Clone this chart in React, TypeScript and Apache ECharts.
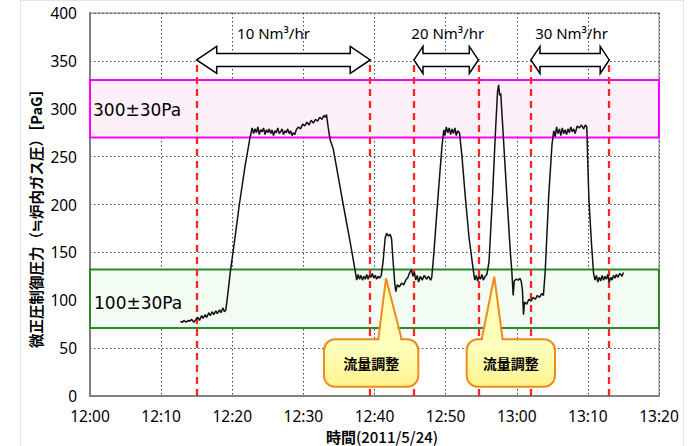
import React, { useEffect, useRef } from "react";
import * as echarts from "echarts";

// ---- data ----
const timeLabels = ["12:00", "12:10", "12:20", "12:30", "12:40", "12:50", "13:00", "13:10", "13:20"];
const yTicks = [0, 50, 100, 150, 200, 250, 300, 350, 400];

// minutes after 12:00
const timeMin = [
  12.7, 13.0, 13.2, 13.5, 13.8, 14.0, 14.3, 14.6, 14.9, 15.2, 15.4, 15.7, 15.9, 16.2, 16.4, 16.7, 16.9, 17.2, 17.4, 17.7, 17.9, 18.2, 18.4, 18.7, 18.9, 19.1,
  19.4, 19.7, 20.2, 21.0, 21.8, 22.5, 22.8,
  23.0, 23.2, 23.4, 23.6, 23.8, 24.0, 24.2, 24.4, 24.6, 24.8, 25.0, 25.2, 25.4, 25.6, 25.8, 26.0, 26.2, 26.4, 26.6, 26.8, 27.0, 27.2, 27.4, 27.6, 27.8, 28.0, 28.2, 28.4, 28.6, 28.8,
  29.0, 29.3, 29.6, 29.9, 30.2, 30.5, 30.8, 31.1, 31.4, 31.7, 32.0, 32.3, 32.6, 32.9, 33.1, 33.25,
  33.5, 33.75, 34.2, 35.0, 35.6, 36.6, 37.3, 37.5,
  37.7, 37.9, 38.1, 38.3, 38.5, 38.7, 38.9, 39.1, 39.3, 39.5, 39.7, 39.9, 40.1, 40.3, 40.5, 40.7, 40.95,
  41.2, 41.5, 41.7, 41.95, 42.2, 42.4, 42.6, 42.85, 43.0, 43.2, 43.5, 43.8, 44.1, 44.4, 44.7, 44.9, 45.2, 45.4, 45.6, 45.8, 46.0, 46.2, 46.45, 46.7, 47.0, 47.3, 47.6, 47.9, 48.05,
  48.3, 49.0, 49.5, 49.75, 49.9, 50.1, 50.3, 50.5, 50.7, 50.9, 51.1, 51.3, 51.5, 51.7, 51.95,
  52.3, 52.8, 53.3, 53.9, 54.1, 54.3, 54.5, 54.7, 54.9, 55.1, 55.3, 55.55, 55.8,
  56.1, 56.6, 57.0, 57.3, 57.45, 57.6, 57.75, 58.0, 58.6, 59.1, 59.3, 59.5, 59.65, 59.9, 60.2, 60.45, 60.65, 60.8, 60.95,
  61.1, 61.4, 61.7, 62.0, 62.3, 62.6, 62.9, 63.2, 63.5, 63.75,
  64.0, 64.5, 64.95, 65.2, 65.4, 65.6, 65.8, 66.0, 66.2, 66.4, 66.6, 66.8, 67.0, 67.2, 67.4, 67.6, 67.8, 68.0, 68.2, 68.5, 68.8, 69.1, 69.4, 69.65, 69.85,
  70.0, 70.15, 70.5, 70.8, 71.0, 71.2, 71.4, 71.6, 71.8, 72.0, 72.2, 72.4, 72.6, 72.8, 73.0, 73.2, 73.4, 73.6, 73.8, 74.0, 74.2, 74.5, 74.8, 75.0,
];
const pressure = [
  78, 77, 79, 77, 79, 78, 80, 77, 80, 82, 79, 84, 81, 85, 82, 87, 84, 88, 85, 89, 86, 90, 87, 92, 88, 90,
  108, 128, 155, 200, 240, 270, 280,
  274, 279, 275, 281, 273, 278, 276, 280, 273, 278, 275, 279, 274, 278, 272, 277, 275, 280, 274, 276, 279, 273, 277, 275, 279, 274, 277, 272, 275, 273,
  278, 281, 279, 284, 282, 286, 283, 288, 285, 289, 287, 291, 289, 293, 291, 294,
  280, 268, 258, 225, 200, 160, 130, 121,
  127, 122, 126, 121, 125, 122, 127, 122, 126, 124, 128, 123, 126, 122, 125, 123, 126,
  140, 165, 170, 167, 169, 164, 142, 118, 109, 116, 114, 118, 116, 121, 124, 128, 132, 125, 129, 121, 126, 119, 125, 121, 126, 122, 125, 121, 124,
  145, 215, 262, 278, 272, 281, 275, 280, 273, 279, 274, 280, 272, 277, 275,
  250, 205, 165, 131, 121, 126, 120, 125, 122, 127, 121, 125, 127,
  140, 210, 275, 318, 325, 314, 316, 285, 210, 150, 131, 105, 120, 122, 121, 123, 119, 110, 85,
  98, 96, 101, 99, 103, 101, 105, 103, 107, 105,
  130, 210, 262, 277, 271, 281, 274, 279, 272, 280, 274, 278, 273, 279, 275, 281, 276, 279, 274, 282, 280, 283, 279, 283, 281,
  240, 205, 160, 128, 121, 126, 119, 124, 120, 126, 121, 125, 122, 127, 119, 124, 121, 126, 123, 127, 124, 128, 125, 129,
];

// control bands
const bandHigh = { from: 270, to: 330, label: "300±30Pa" };
const bandLow = { from: 71, to: 132, label: "100±30Pa" };

// flow-change marker lines (minutes after 12:00)
const markerTimes = [15.0, 39.4, 45.55, 54.6, 62.0, 73.0];
const markerTop = 352;

// flow-rate periods
const flowFrom = [15.0, 45.55, 62.0];
const flowTo = [39.4, 54.6, 73.0];
const flowLevel = 351;
const flowLabels = ["10 Nm³/hr", "20 Nm³/hr", "30 Nm³/hr"];
const flowLabelAt = [25.8, 50.3, 67.7];
const flowLabelLevel = 379;

// callouts: box [t1, t2, vTop, vBottom], tip [t, v], base [t1, t2]
const calloutText = ["流量調整", "流量調整"];
const calloutBox = [
  [32.9, 46.16, 59.2, 9.7],
  [52.96, 65.38, 59.2, 9.7],
];
const calloutTip = [
  [41.62, 122.9],
  [56.84, 124.6],
];
const calloutBase = [
  [40.53, 43.82],
  [55.07, 58.02],
];

const headLens = [20, 9, 9];

export default function App() {
  const ref = useRef<HTMLDivElement>(null);

  useEffect(() => {
    if (!ref.current) return;
    const chart = echarts.init(ref.current, null, { renderer: "svg" });

    const lineData = timeMin.map((t, i) => [t, pressure[i]]);

    const arrowData = flowFrom.map((f, i) => [f, flowTo[i], flowLevel, i]);
    const flowLabelData = flowLabels.map((l, i) => [flowLabelAt[i], flowLabelLevel, i]);
    const calloutData = calloutText.map((_, i) => [
      calloutBox[i][0], calloutBox[i][1], calloutBox[i][2], calloutBox[i][3],
      calloutTip[i][0], calloutTip[i][1], calloutBase[i][0], calloutBase[i][1], i,
    ]);

    const option: any = {
      animation: false,
      backgroundColor: "#ffffff",
      grid: {
        left: 90,
        right: 32,
        top: 13,
        bottom: 50,
        show: true,
        borderColor: "#a8a8a8",
        borderWidth: 1.5,
        backgroundColor: "#ffffff",
      },
      xAxis: {
        type: "value",
        min: 0,
        max: 80,
        interval: 10,
        axisLine: { show: true, lineStyle: { color: "#808080", width: 2 } },
        axisTick: { show: false },
        axisLabel: {
          margin: 12,
          fontSize: 15.5,
          color: "#000",
          fontFamily: "Noto Sans",
          formatter: (v: number) => timeLabels[Math.round(v / 10)] ?? "",
        },
        splitLine: { show: true, lineStyle: { color: "#444", type: [1.5, 2.5], width: 1 } },
      },
      yAxis: {
        type: "value",
        min: 0,
        max: 400,
        interval: 50,
        axisLine: { show: true, lineStyle: { color: "#808080", width: 2 } },
        axisTick: { show: false },
        axisLabel: {
          margin: 13,
          fontSize: 15.5,
          color: "#000",
          fontFamily: "Noto Sans",
          formatter: (v: number) => (yTicks.includes(v) ? String(v) : ""),
        },
        splitLine: { show: true, lineStyle: { color: "#444", type: [1.5, 2.5], width: 1 } },
      },
      graphic: [
        {
          type: "rect",
          silent: true,
          shape: { x: 20.5, y: 0.5, width: 663, height: 446 },
          style: { fill: "none", stroke: "#e4e4e4", lineWidth: 1 },
          z: -10,
        },
        {
          type: "text",
          x: 35,
          y: 215,
          rotation: Math.PI / 2,
          style: {
            text: "微正圧制御圧力（≒炉内ガス圧）［PaG］",
            align: "center",
            verticalAlign: "middle",
            fontSize: 14.5,
            fontFamily: "Noto Sans CJK JP",
            fontWeight: "bold",
            fill: "#000",
          },
        },
        {
          type: "text",
          x: 382,
          y: 436,
          style: {
            text: "{k|時間}{d|(2011/5/24)}",
            align: "center",
            verticalAlign: "middle",
            rich: {
              k: { fontSize: 15, fontFamily: "Noto Sans CJK JP", fontWeight: "bold", fill: "#000" },
              d: { fontSize: 15, fontFamily: "Noto Sans CJK JP", fontWeight: 500, fill: "#000" },
            },
          },
        },
      ],
      series: [
        {
          type: "line",
          data: lineData,
          showSymbol: false,
          symbol: "none",
          lineStyle: { color: "#111", width: 1.5 },
          z: 5,
          markArea: {
            silent: true,
            data: [
              [
                {
                  yAxis: bandHigh.from,
                  itemStyle: { color: "#fdf0f8", borderColor: "#ff00ff", borderWidth: 2 },
                  label: { show: true, position: "insideLeft", formatter: bandHigh.label, distance: 4, offset: [0, 1] },
                },
                { yAxis: bandHigh.to },
              ],
              [
                {
                  yAxis: bandLow.from,
                  itemStyle: { color: "#f3fcf3", borderColor: "#2a8a2a", borderWidth: 2 },
                  label: { show: true, position: "insideLeft", formatter: bandLow.label, distance: 5, offset: [0, 4] },
                },
                { yAxis: bandLow.to },
              ],
            ],
            label: { fontSize: 17, fontFamily: "DejaVu Sans", color: "#000" },
          },
          markLine: {
            silent: true,
            symbol: "none",
            label: { show: false },
            lineStyle: { color: "#ff2424", width: 2.3, type: [7, 5] },
            data: markerTimes.map((t) => [{ coord: [t, 0] }, { coord: [t, markerTop] }]),
          },
        },
        {
          type: "custom",
          data: arrowData,
          clip: false,
          z: 10,
          silent: true,
          renderItem: (params: any, api: any) => {
            const a = api.coord([api.value(0), api.value(2)]);
            const b = api.coord([api.value(1), api.value(2)]);
            const idx = api.value(3);
            const h = headLens[idx];
            const x1 = a[0], x2 = b[0], y = a[1];
            const hh = 13.5, sh = 6.5;
            const points = [
              [x1, y], [x1 + h, y - hh], [x1 + h, y - sh], [x2 - h, y - sh], [x2 - h, y - hh],
              [x2, y], [x2 - h, y + hh], [x2 - h, y + sh], [x1 + h, y + sh], [x1 + h, y + hh],
            ];
            return {
              type: "polygon",
              shape: { points },
              style: { fill: "#ffffff", stroke: "#000", lineWidth: 1.5 },
            };
          },
        },
        {
          type: "custom",
          data: flowLabelData,
          clip: false,
          z: 10,
          silent: true,
          renderItem: (params: any, api: any) => {
            const p = api.coord([api.value(0), api.value(1)]);
            return {
              type: "text",
              x: p[0],
              y: p[1],
              style: {
                text: flowLabels[api.value(2)],
                align: "center",
                verticalAlign: "middle",
                fontSize: 15,
                fontFamily: "Noto Sans",
                fill: "#000",
              },
            };
          },
        },
        {
          type: "custom",
          data: calloutData,
          clip: false,
          z: 12,
          silent: true,
          renderItem: (params: any, api: any) => {
            const tl = api.coord([api.value(0), api.value(2)]);
            const br = api.coord([api.value(1), api.value(3)]);
            const tip = api.coord([api.value(4), api.value(5)]);
            const bl = api.coord([api.value(6), api.value(2)]);
            const brb = api.coord([api.value(7), api.value(2)]);
            const idx = api.value(8);
            const stroke = "#f08a1c";
            const grad = new echarts.graphic.LinearGradient(0, 0, 0, 1, [
              { offset: 0, color: "#ffffc4" },
              { offset: 1, color: "#fff48e" },
            ]);
            return {
              type: "group",
              children: [
                {
                  type: "rect",
                  shape: { x: tl[0], y: tl[1], width: br[0] - tl[0], height: br[1] - tl[1], r: 11 },
                  style: { fill: grad, stroke, lineWidth: 2 },
                },
                {
                  type: "polygon",
                  shape: { points: [[bl[0] + 1, bl[1] + 2], tip, [brb[0] - 1, brb[1] + 2]] },
                  style: { fill: "#ffffb8", stroke: "none" },
                },
                {
                  type: "polyline",
                  shape: { points: [[bl[0], bl[1]], tip, [brb[0], brb[1]]] },
                  style: { fill: "none", stroke, lineWidth: 2 },
                },
                {
                  type: "text",
                  x: (tl[0] + br[0]) / 2,
                  y: (tl[1] + br[1]) / 2,
                  style: {
                    text: calloutText[idx],
                    align: "center",
                    verticalAlign: "middle",
                    fontSize: 14,
                    fontWeight: "bold",
                    fontFamily: "Noto Sans CJK JP",
                    fill: "#000",
                  },
                },
              ],
            };
          },
        },
      ],
    };

    chart.setOption(option);
    return () => chart.dispose();
  }, []);

  return (
    <div
      ref={ref}
      style={{ position: "fixed", left: 0, top: 0, width: 691, height: 446, background: "#fff" }}
    />
  );
}
